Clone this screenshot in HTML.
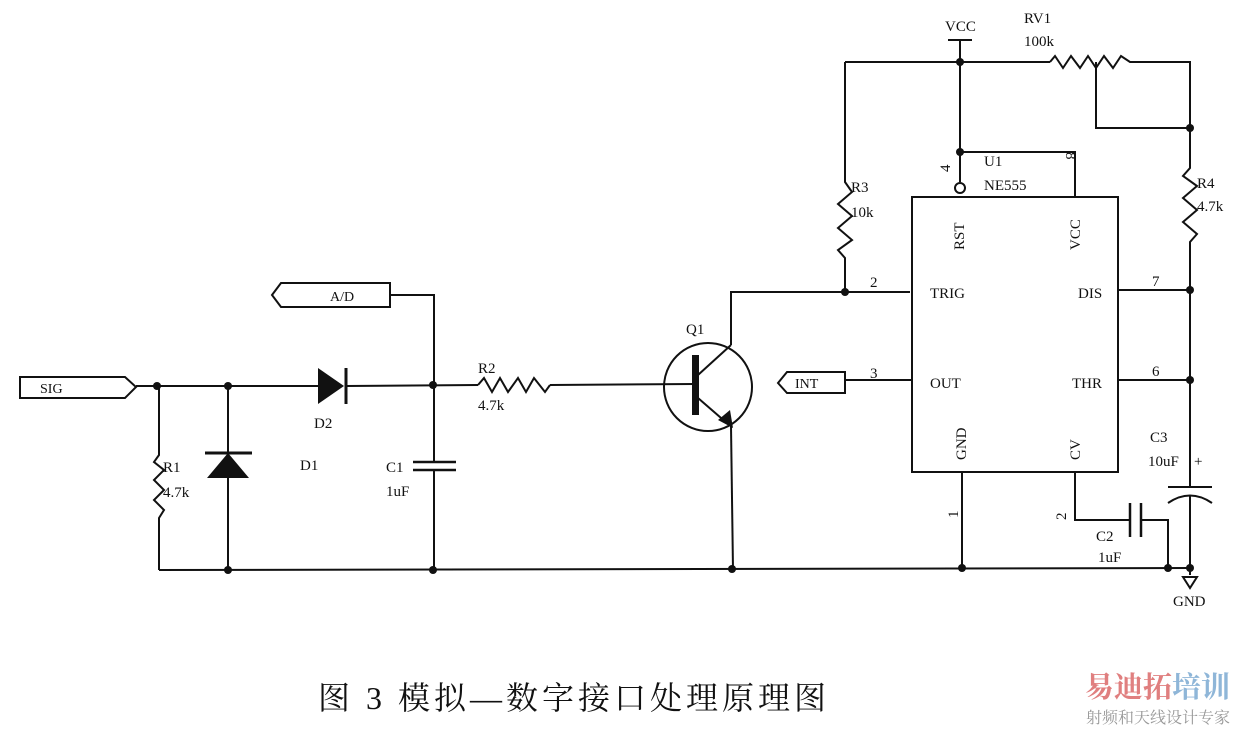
<!DOCTYPE html>
<html><head><meta charset="utf-8"><style>
html,body{margin:0;padding:0;background:#fff;}
svg{display:block;}
text{font-family:"Liberation Serif","Noto Serif CJK SC",serif;fill:#111;}
</style></head><body>
<svg width="1240" height="729" viewBox="0 0 1240 729" xmlns="http://www.w3.org/2000/svg">
<g stroke="#111" stroke-width="2" fill="none">
<polygon points="20,377 125,377 136,387 125,398 20,398"/>
<line x1="136" y1="386" x2="318" y2="386"/>
<line x1="346" y1="386" x2="478" y2="385"/>
<polyline points="478,385 484,378 492,392 500,378 508,392 518,378 526,392 534,378 545,392 550,385"/>
<line x1="550" y1="385" x2="695" y2="384"/>
<!-- R1 -->
<polyline points="159,386 159,455 154,462 164,470 154,480 164,490 154,500 164,510 159,518 159,570"/>
<!-- D1 -->
<line x1="228" y1="386" x2="228" y2="570"/>
<line x1="205" y1="453" x2="252" y2="453" stroke-width="3"/>
<line x1="346" y1="368" x2="346" y2="404" stroke-width="3"/>
<!-- A/D -->
<polygon points="272,295 281,283 390,283 390,307 281,307"/>
<polyline points="390,295 434,295 434,386"/>
<!-- C1 -->
<line x1="434" y1="386" x2="434" y2="462"/>
<line x1="434" y1="470" x2="434" y2="570"/>
<line x1="413" y1="462" x2="456" y2="462" stroke-width="2.5"/>
<line x1="413" y1="470" x2="456" y2="470" stroke-width="2.5"/>
<line x1="159" y1="570" x2="1190" y2="568"/>
<!-- Q1 -->
<circle cx="708" cy="387" r="44"/>
<line x1="698" y1="375" x2="731" y2="345"/>
<line x1="698" y1="398" x2="728" y2="424"/>
<polyline points="731,345 731,292 910,292"/>
<line x1="731" y1="426" x2="733" y2="570"/>
<!-- R3 -->
<polyline points="845,292 845,258 838,250 852,240 838,228 852,216 838,204 852,192 845,182 845,62"/>
<line x1="845" y1="62" x2="1050" y2="62"/>
<polyline points="1050,62 1055,56 1063,68 1071,56 1080,68 1088,56 1096,68 1104,56 1113,68 1121,56 1130,62 1190,62 1190,128"/>
<polyline points="1096,62 1096,128 1190,128"/>
<line x1="948" y1="40" x2="972" y2="40"/>
<line x1="960" y1="40" x2="960" y2="182"/>
<polyline points="960,152 1075,152 1075,197"/>
<circle cx="960" cy="188" r="5"/>
<rect x="912" y="197" width="206" height="275"/>
<polyline points="1190,128 1190,168 1183,176 1197,186 1183,198 1197,210 1183,222 1197,234 1190,242 1190,487"/>
<line x1="1118" y1="290" x2="1190" y2="290"/>
<line x1="1118" y1="380" x2="1190" y2="380"/>
<polygon points="778,383 787,372 845,372 845,393 787,393"/>
<line x1="845" y1="380" x2="912" y2="380"/>
<line x1="962" y1="472" x2="962" y2="570"/>
<polyline points="1075,472 1075,520 1130,520"/>
<line x1="1130" y1="503" x2="1130" y2="537" stroke-width="2.5"/>
<line x1="1141" y1="503" x2="1141" y2="537" stroke-width="2.5"/>
<polyline points="1141,520 1168,520 1168,568"/>
<line x1="1168" y1="487" x2="1212" y2="487" stroke-width="2"/>
<path d="M1168,503 Q1190,488 1212,503"/>
<line x1="1190" y1="496" x2="1190" y2="575"/>
<polygon points="1183,577 1197,577 1190,588"/>
</g>
<g fill="#111">
<polygon points="228,453 207,478 249,478"/>
<polygon points="318,368 318,404 344,386"/>
<rect x="692" y="355" width="7" height="60"/>
<polygon points="733,428 718,420 730,410"/>
<circle cx="157" cy="386" r="4"/><circle cx="228" cy="386" r="4"/><circle cx="433" cy="385" r="4"/>
<circle cx="228" cy="570" r="4"/><circle cx="433" cy="570" r="4"/><circle cx="732" cy="569" r="4"/>
<circle cx="962" cy="568" r="4"/><circle cx="1168" cy="568" r="4"/><circle cx="1190" cy="568" r="4"/>
<circle cx="845" cy="292" r="4"/><circle cx="960" cy="62" r="4"/><circle cx="960" cy="152" r="4"/>
<circle cx="1190" cy="128" r="4"/><circle cx="1190" cy="290" r="4"/><circle cx="1190" cy="380" r="4"/>
</g>
<g font-size="15">
<text x="40" y="393" font-size="14">SIG</text>
<text x="330" y="301" font-size="14">A/D</text>
<text x="795" y="388" font-size="14">INT</text>
<text x="163" y="472">R1</text><text x="163" y="497">4.7k</text>
<text x="300" y="470">D1</text>
<text x="314" y="428">D2</text>
<text x="386" y="472">C1</text><text x="386" y="496">1uF</text>
<text x="478" y="373">R2</text><text x="478" y="410">4.7k</text>
<text x="686" y="334">Q1</text>
<text x="851" y="192">R3</text><text x="851" y="217">10k</text>
<text x="945" y="31">VCC</text>
<text x="1024" y="23">RV1</text><text x="1024" y="46">100k</text>
<text x="984" y="166">U1</text><text x="984" y="190">NE555</text>
<text x="1197" y="188">R4</text><text x="1197" y="211">4.7k</text>
<text x="930" y="298">TRIG</text><text x="930" y="388">OUT</text>
<text x="1078" y="298">DIS</text><text x="1072" y="388">THR</text>
<text x="870" y="287">2</text><text x="870" y="378">3</text>
<text x="1152" y="286">7</text><text x="1152" y="376">6</text>
<text x="1150" y="442">C3</text><text x="1148" y="466">10uF</text>
<text x="1194" y="466">+</text>
<text x="1096" y="541">C2</text><text x="1098" y="562">1uF</text>
<text x="1173" y="606">GND</text>
<text transform="translate(964,250) rotate(-90)">RST</text>
<text transform="translate(1080,250) rotate(-90)">VCC</text>
<text transform="translate(966,460) rotate(-90)">GND</text>
<text transform="translate(1080,460) rotate(-90)">CV</text>
<text transform="translate(950,172) rotate(-90)">4</text>
<text transform="translate(1066,152) rotate(90)">8</text>
<text transform="translate(958,518) rotate(-90)">1</text>
<text transform="translate(1066,520) rotate(-90)">2</text>
</g>
<text x="318" y="709" font-size="32" letter-spacing="4">图 3  模拟—数字接口处理原理图</text>
<text x="1085" y="697" font-size="29" font-weight="bold" style="fill:#e07f7f">易迪拓</text>
<text x="1172" y="697" font-size="29" font-weight="bold" style="fill:#8fb6d8">培训</text>
<text x="1086" y="723" font-size="16" style="fill:#999">射频和天线设计专家</text>
</svg>
</body></html>
